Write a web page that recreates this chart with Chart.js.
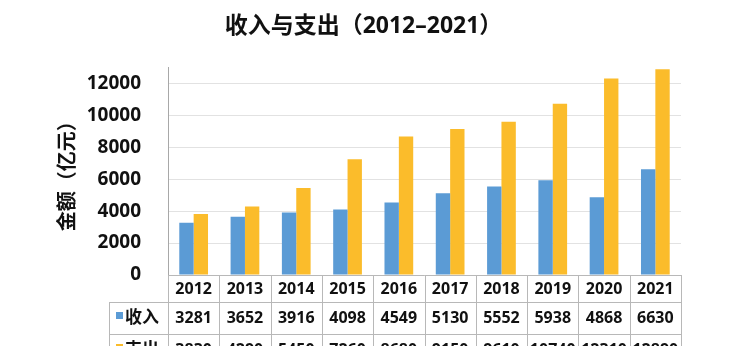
<!DOCTYPE html>
<html>
<head>
<meta charset="utf-8">
<script src="https://cdn.jsdelivr.net/npm/chart.js@4.4.1/dist/chart.umd.min.js"></script>
<style>
  html, body { margin: 0; padding: 0; background: #fff; }
</style>
</head>
<body>
<canvas id="chart" width="744" height="346"></canvas>
<script>
'use strict';

const years = ['2012', '2013', '2014', '2015', '2016', '2017', '2018', '2019', '2020', '2021'];
const income = [3281, 3652, 3916, 4098, 4549, 5130, 5552, 5938, 4868, 6630];
const expense = [3830, 4290, 5450, 7260, 8680, 9150, 9610, 10740, 12310, 12890];
const seriesNames = ['收入', '支出'];
const yTicks = [0, 2000, 4000, 6000, 8000, 10000, 12000];

const BLUE = '#5b9bd5';
const YELLOW = '#fbbc2b';
const FONT = '"Noto Sans", "Noto Sans CJK SC", sans-serif';

Chart.defaults.font.family = FONT;
Chart.defaults.color = '#111';

// data table under the plot, columns follow the x scale
const dataTable = {
  id: 'dataTable',
  afterDraw(chart) {
    const ctx = chart.ctx;
    const xs = chart.scales.x;
    const area = chart.chartArea;
    const n = years.length;
    const cw = xs.width / n;
    const headH = 27;
    const rowH = 32;
    const top = area.bottom;
    const labelLeft = 109;
    const rows = [income, expense];
    const colors = [BLUE, YELLOW];
    const lineY = [top, top + headH, top + headH + rowH, top + headH + 2 * rowH];

    ctx.save();
    ctx.strokeStyle = '#b8b8b8';
    ctx.lineWidth = 1;
    ctx.beginPath();
    ctx.moveTo(area.left, Math.round(lineY[0]) + 0.5);
    ctx.lineTo(area.right, Math.round(lineY[0]) + 0.5);
    for (let r = 1; r < lineY.length; r++) {
      ctx.moveTo(labelLeft, Math.round(lineY[r]) + 0.5);
      ctx.lineTo(area.right, Math.round(lineY[r]) + 0.5);
    }
    for (let i = 0; i <= n; i++) {
      const x = Math.round(xs.left + i * cw) + 0.5;
      ctx.moveTo(x, top);
      ctx.lineTo(x, lineY[3]);
    }
    ctx.moveTo(labelLeft + 0.5, lineY[1]);
    ctx.lineTo(labelLeft + 0.5, lineY[3]);
    ctx.stroke();

    ctx.fillStyle = '#111';
    ctx.textAlign = 'center';
    ctx.textBaseline = 'middle';
    ctx.font = 'bold 16px ' + FONT;
    years.forEach((y, i) => {
      ctx.fillText(y, xs.getPixelForValue(i), top + headH / 2 + 1);
    });
    rows.forEach((vals, r) => {
      const cy = lineY[r + 1] + rowH / 2;
      ctx.font = 'bold 16px ' + FONT;
      ctx.textAlign = 'center';
      vals.forEach((v, i) => {
        ctx.fillText(String(v), xs.getPixelForValue(i), cy);
      });
      ctx.fillStyle = colors[r];
      ctx.fillRect(labelLeft + 7, cy - 6, 7, 7);
      ctx.fillStyle = '#111';
      ctx.textAlign = 'left';
      ctx.font = 'bold 17px ' + FONT;
      ctx.fillText(seriesNames[r], labelLeft + 16, cy);
    });
    ctx.restore();
  }
};

new Chart(document.getElementById('chart').getContext('2d'), {
  type: 'bar',
  data: {
    labels: years,
    datasets: [
      { label: seriesNames[0], data: income, backgroundColor: BLUE },
      { label: seriesNames[1], data: expense, backgroundColor: YELLOW }
    ]
  },
  options: {
    responsive: false,
    animation: false,
    devicePixelRatio: 1,
    categoryPercentage: 0.56,
    barPercentage: 1.0,
    layout: { padding: { left: 46, right: 63, top: 0, bottom: 71 } },
    plugins: {
      legend: { display: false },
      tooltip: { enabled: false },
      title: {
        display: true,
        text: '收入与支出（2012–2021）',
        color: '#111',
        font: { size: 23, weight: 'bold' },
        padding: { top: 13, bottom: 27 }
      }
    },
    scales: {
      x: { display: false },
      y: {
        min: 0,
        max: 13000,
        afterBuildTicks(scale) {
          scale.ticks = yTicks.map(v => ({ value: v }));
        },
        afterFit(scale) { scale.width = 122; },
        grid: { color: '#e2e2e2', drawTicks: false },
        border: { display: true, color: '#a8a8a8' },
        ticks: {
          padding: 27,
          color: '#111',
          font: { size: 19, weight: 'bold' },
          callback: v => String(v)
        },
        title: {
          display: true,
          text: '金额（亿元）',
          color: '#111',
          font: { size: 20, weight: 'bold' },
          padding: { top: 10, bottom: 0 }
        }
      }
    }
  },
  plugins: [dataTable]
});
</script>
</body>
</html>
